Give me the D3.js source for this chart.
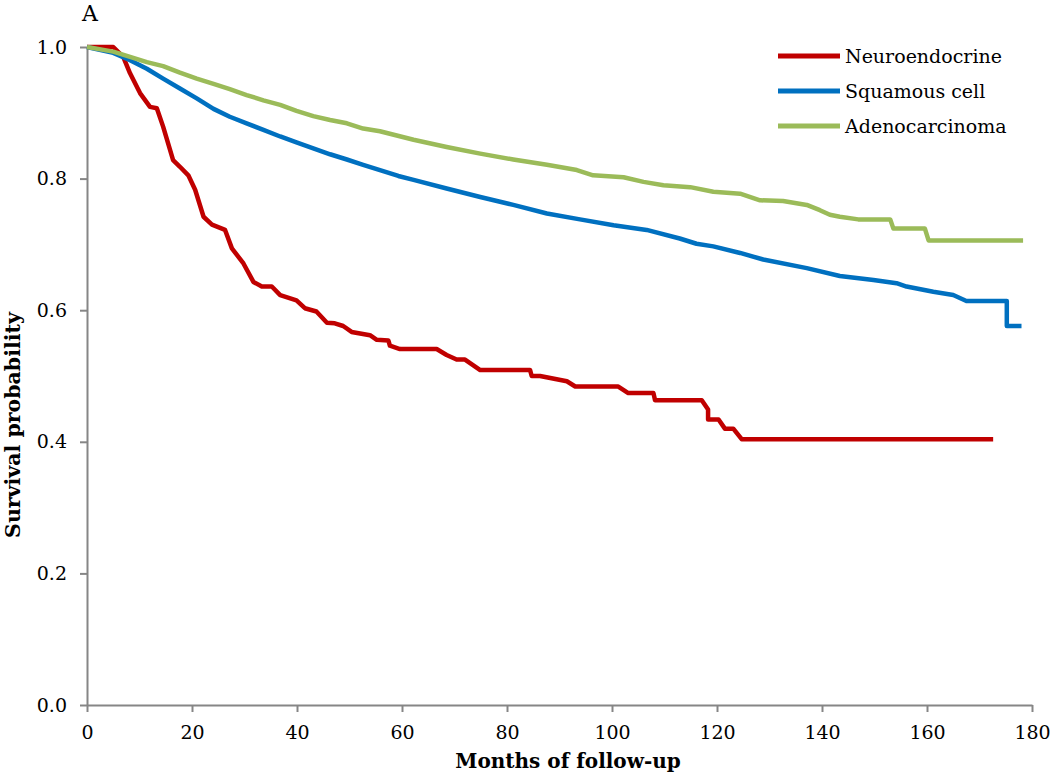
<!DOCTYPE html>
<html>
<head>
<meta charset="utf-8">
<script src="https://cdn.jsdelivr.net/npm/d3@7"></script>
<style>
  html, body { margin: 0; padding: 0; background: #fff; }
  svg { display: block; }
</style>
</head>
<body>
<svg id="chart" width="1050" height="776"></svg>
<script>
const seriesNames = ["Neuroendocrine", "Squamous cell", "Adenocarcinoma"];
const seriesColors = ["#C00000", "#0070C0", "#9BBB59"];

const neuroMonths = [0,5,6.9,8.2,10.1,12,13.3,14.5,16.4,17.7,19.3,20.6,22.2,23.8,26.3,27.6,29.8,31.7,33.3,35.2,36.8,39.9,41.5,43.7,45.7,47.2,48.8,50.4,53.9,55.2,57.4,57.7,59.6,66.6,68.5,70.4,72,74.9,84.4,84.7,86.3,91.4,93,101.2,103.1,107.9,108.2,117.1,118.3,118.3,120.3,121.5,123.1,124.7,172.6];
const neuroSurv = [1,1,0.985,0.96,0.93,0.909,0.907,0.879,0.828,0.818,0.805,0.783,0.742,0.73,0.722,0.694,0.671,0.643,0.636,0.636,0.623,0.615,0.603,0.598,0.581,0.58,0.576,0.567,0.562,0.555,0.554,0.546,0.541,0.541,0.532,0.525,0.525,0.509,0.509,0.5,0.5,0.492,0.484,0.484,0.474,0.474,0.463,0.463,0.449,0.434,0.434,0.42,0.42,0.404,0.404];

const squamMonths = [0,5,8.2,11.4,14.5,17.7,20.9,24.1,27.2,30.4,33.6,36.8,39.9,43.1,46.3,49.5,52.6,55.8,59.3,62.2,68.5,74.9,81.2,87.6,93.9,100.3,106.6,112.9,116.1,119.3,124.4,128.8,137.1,143.4,149.8,154.2,156.1,161.2,165,167.5,175.2,175.2,178];
const squamSurv = [1,0.991,0.98,0.967,0.952,0.937,0.922,0.906,0.894,0.884,0.874,0.864,0.855,0.846,0.837,0.829,0.821,0.813,0.804,0.798,0.785,0.772,0.76,0.747,0.738,0.729,0.722,0.709,0.701,0.697,0.687,0.677,0.664,0.652,0.646,0.641,0.636,0.628,0.623,0.614,0.614,0.576,0.576];

const adenoMonths = [0,5,8.2,11.4,14.5,17.7,20.9,24.1,27.2,30.4,33.6,36.8,39.9,43.1,46.3,49.5,52.6,55.8,62.2,68.5,74.9,81.2,87.6,93.3,96.4,102.2,106,109.8,114.9,119.3,124.4,128.2,132.6,137.1,139.6,141.5,143.4,146.9,153,153.6,159.6,160.3,178.3];
const adenoSurv = [1,0.993,0.985,0.977,0.971,0.961,0.952,0.944,0.936,0.927,0.919,0.912,0.903,0.895,0.889,0.884,0.876,0.872,0.859,0.848,0.838,0.829,0.821,0.813,0.805,0.802,0.795,0.79,0.787,0.78,0.777,0.767,0.766,0.76,0.752,0.745,0.742,0.738,0.738,0.724,0.724,0.706,0.706];

const xTicks = [0,20,40,60,80,100,120,140,160,180];
const yTicks = [0,0.2,0.4,0.6,0.8,1.0];

const seriesMonths = [neuroMonths, squamMonths, adenoMonths];
const seriesSurv = [neuroSurv, squamSurv, adenoSurv];

const svg = d3.select("#chart");
const font = "'DejaVu Serif', serif";
const axisColor = "#868686";

const x = d3.scaleLinear().domain([0,180]).range([87,1032]);
const y = d3.scaleLinear().domain([0,1]).range([705,47]);

// axes
const xAxis = svg.append("g").attr("transform", `translate(0,${y(0)})`)
  .call(d3.axisBottom(x).tickValues(xTicks).tickSize(7).tickSizeOuter(0).tickPadding(14).tickFormat(d3.format("d")));
const yAxis = svg.append("g").attr("transform", `translate(${x(0)},0)`)
  .call(d3.axisLeft(y).tickValues(yTicks).tickSize(7).tickSizeOuter(0).tickPadding(13).tickFormat(d3.format(".1f")));
[xAxis, yAxis].forEach(g => {
  g.select(".domain").attr("stroke", axisColor).attr("stroke-width", 2);
  g.selectAll(".tick line").attr("stroke", axisColor).attr("stroke-width", 2);
  g.selectAll(".tick text").attr("fill", "#000").style("font-family", font).style("font-size", "19px");
});

// lines
const line = d3.line().x(d => x(d[0])).y(d => y(d[1]));
seriesNames.forEach((name, i) => {
  const pts = seriesMonths[i].map((m, j) => [m, seriesSurv[i][j]]);
  svg.append("path").datum(pts)
    .attr("fill", "none")
    .attr("stroke", seriesColors[i])
    .attr("stroke-width", 4.5)
    .attr("stroke-linejoin", "round")
    .attr("d", line);
});

// legend
const legendRows = [56, 91, 126];
seriesNames.forEach((name, i) => {
  svg.append("line")
    .attr("x1", 778).attr("x2", 840)
    .attr("y1", legendRows[i]).attr("y2", legendRows[i])
    .attr("stroke", seriesColors[i]).attr("stroke-width", 5);
  svg.append("text")
    .attr("x", 845).attr("y", legendRows[i])
    .attr("dy", "0.35em")
    .style("font-family", font).style("font-size", "19px")
    .text(name);
});

// titles
svg.append("text").attr("x", 82).attr("y", 21)
  .style("font-family", font).style("font-size", "22px").text("A");

svg.append("text").attr("x", 568).attr("y", 768)
  .attr("text-anchor", "middle")
  .style("font-family", font).style("font-size", "20px").style("font-weight", "bold")
  .text("Months of follow-up");

svg.append("text")
  .attr("transform", "translate(20,425) rotate(-90)")
  .attr("text-anchor", "middle")
  .style("font-family", font).style("font-size", "20.5px").style("font-weight", "bold")
  .text("Survival probability");
</script>
</body>
</html>
